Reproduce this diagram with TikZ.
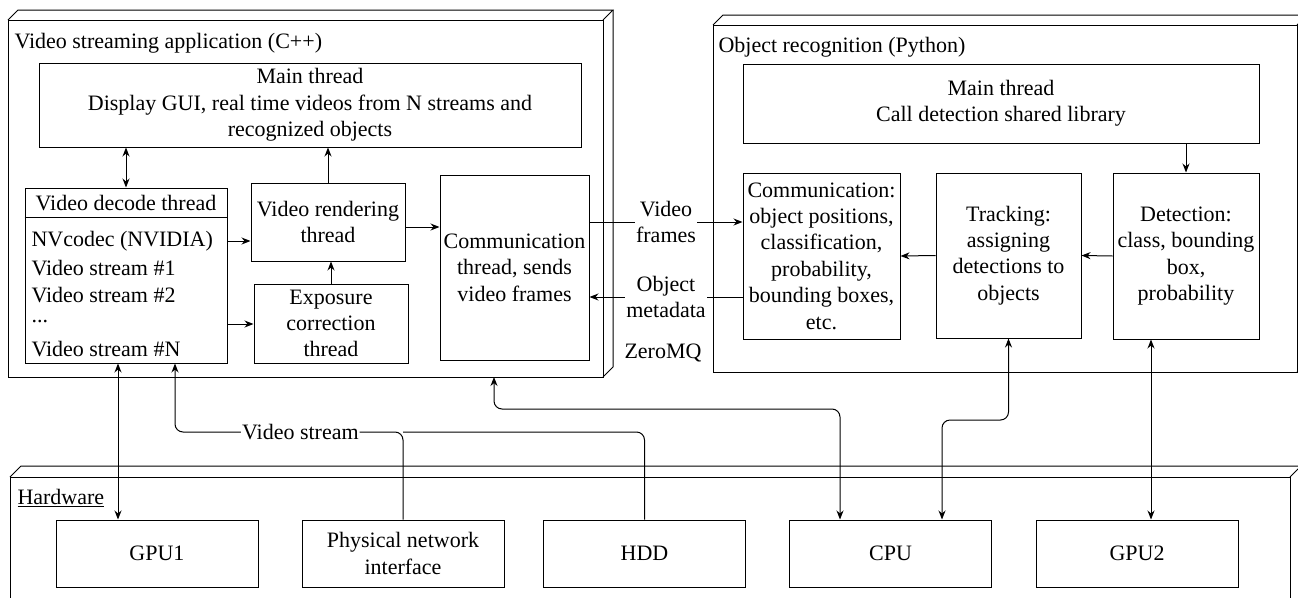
\documentclass[tikz,border=0pt]{standalone}
\usepackage{fontspec}
\setmainfont{Liberation Serif}
\usetikzlibrary{arrows.meta}
\newcommand\dfont{\fontsize{22}{26.4}\selectfont}
\begin{document}
\begin{tikzpicture}[x=1pt,y=-1pt,line width=1pt,font=\dfont,
  box/.style={draw,fill=white,align=center,inner sep=0pt},
  lbl/.style={fill=white,align=center,inner sep=1pt},
  item/.style={anchor=west,inner sep=0pt},
  arr/.style={-{Stealth[length=9pt,width=7pt]}},
  arrboth/.style={{Stealth[length=9pt,width=7pt]}-{Stealth[length=9pt,width=7pt]}},
  conn/.style={rounded corners=8pt}]
\useasboundingbox (0,0) rectangle (1298,597);
\clip (0,0) rectangle (1298,597);
% cubes
\draw[fill=white] (8,20) rectangle (603,377);
\draw (8,20) -- (18,10) -- (613,10) -- (603,20);
\draw (613,10) -- (613,367) -- (603,377);
\draw[fill=white] (713,25) rectangle (1297,372);
\draw (713,25) -- (723,15) -- (1307,15) -- (1297,25);
\draw (1307,15) -- (1307,362) -- (1297,372);
\draw[fill=white] (10,477) rectangle (1290,640);
\draw (10,477) -- (21,466) -- (1301,466) -- (1290,477);
\draw (1301,466) -- (1301,629);
% titles
\node[item] (titleL) at (14,43) {Video streaming application (C++)};
\node[item] (titleR) at (718,47) {Object recognition (Python)};
\node[item] (titleH) at (17,498) {\underline{Hardware}};
% left app
\node[box,minimum width=542pt,minimum height=84pt] (mainL) at (310,105) {Main thread\\Display GUI, real time videos from N streams and\\recognized objects};
\node[box,minimum width=202pt,minimum height=175pt] (decode) at (126,275.5) {};
\draw (decode.west |- 0,217) -- (decode.east |- 0,217);
\node (dechead) at (126,203) {Video decode thread};
\node[item] (nv) at (31,241) {NVcodec (NVIDIA)};
\node[item] (vs1) at (31,268) {Video stream \#1};
\node[item] (vs2) at (31,295) {Video stream \#2};
\node[item] (dots) at (31,322) {...};
\node[item] (vsn) at (31,349) {Video stream \#N};
\node[box,minimum width=154pt,minimum height=78pt] (render) at (328,222) {Video rendering\\thread};
\node[box,minimum width=154pt,minimum height=79pt] (expo) at (331,323.5) {Exposure\\correction\\thread};
\node[box,minimum width=149pt,minimum height=185pt] (commL) at (514.5,267.5) {Communication\\thread, sends\\video frames};
% right app
\node[box,minimum width=516pt,minimum height=79pt] (mainR) at (1001,103.5) {Main thread\\Call detection shared library};
\node[box,minimum width=157pt,minimum height=166pt] (commR) at (821.5,256) {Communication:\\object positions,\\classification,\\probability,\\bounding boxes,\\etc.};
\node[box,minimum width=145pt,minimum height=165pt] (track) at (1008.5,255.5) {Tracking:\\assigning\\detections to\\objects};
\node[box,minimum width=146pt,minimum height=166pt] (detect) at (1186,256) {Detection:\\class, bounding\\box,\\probability};
% hardware
\node[box,minimum width=202pt,minimum height=67pt] (gpu1) at (157,553.5) {GPU1};
\node[box,minimum width=202pt,minimum height=67pt] (pni) at (403,553.5) {Physical network\\interface};
\node[box,minimum width=202pt,minimum height=67pt] (hdd) at (644.5,553.5) {HDD};
\node[box,minimum width=202pt,minimum height=67pt] (cpu) at (890.5,553.5) {CPU};
\node[box,minimum width=202pt,minimum height=67pt] (gpu2) at (1137,553.5) {GPU2};
\node (zmq) at (663,353) {ZeroMQ};
\coordinate (appB) at (494,377);
% connectors
\draw[arrboth] (decode.north) -- (decode.north |- mainL.south);
\draw[arr] (render.north) -- (render.north |- mainL.south);
\draw[arr] (decode.east |- nv) -- (render.west |- nv);
\draw[arr] (decode.east |- 0,324) -- (expo.west |- 0,324);
\draw[arr] (expo.north) -- (expo.north |- render.south);
\draw[arr] (render.east |- 0,227) -- (commL.west |- 0,227);
\draw[arr] (commL.east |- 0,222) -- node[lbl]{Video\\frames} (commR.west |- 0,222);
\draw[arr] (commR.west |- 0,297) -- node[lbl]{Object\\metadata} (commL.east |- 0,297);
\draw[arr] (detect.north |- mainR.south) -- (detect.north);
\draw[arr] (detect.west) -- (track.east);
\draw[arr] (track.west) -- (commR.east);
\draw[arrboth] (decode.south -| 118,0) -- (gpu1.north -| 118,0);
\draw[conn,arr] (pni.north) -- (pni.north |- 0,432) -- node[lbl,pos=0.45]{Video stream} (175,432) -- (decode.south -| 175,0);
\draw[conn] (hdd.north) -- (hdd.north |- 0,432) -- (pni.north |- 0,432);
\draw[conn,arrboth] (appB) -- (494,409) -- (840,409) -- (cpu.north -| 840,0);
\draw[conn,arrboth] (track.south) -- (track.south |- 0,420) -- (942,420) -- (cpu.north -| 942,0);
\draw[arrboth] (detect.south -| 1151,0) -- (gpu2.north -| 1151,0);
\end{tikzpicture}
\end{document}
